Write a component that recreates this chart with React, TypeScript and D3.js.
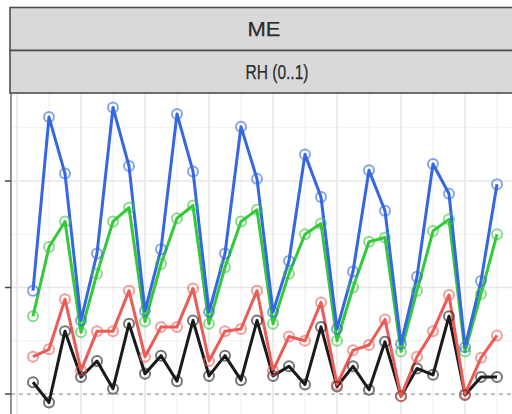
import React, { useEffect, useRef } from "react";
import * as d3 from "d3";

// Facet strip labels
const stripLabels = ["ME", "RH (0..1)"];

// Values, one per time step (30 steps)
const blueSeries = [
  0.97, 2.6, 2.07, 0.69, 1.32, 2.69, 2.14, 0.78, 1.36, 2.63, 2.09, 0.77, 1.32, 2.51, 2.02,
  0.77, 1.25, 2.25, 1.85, 0.61, 1.15, 2.1, 1.72, 0.47, 1.1, 2.16, 1.88, 0.44, 1.06, 1.97,
];
const greenSeries = [
  0.73, 1.38, 1.62, 0.58, 1.13, 1.62, 1.75, 0.68, 1.22, 1.65, 1.77, 0.66, 1.19, 1.62, 1.73,
  0.66, 1.13, 1.5, 1.6, 0.5, 1.0, 1.43, 1.47, 0.4, 0.97, 1.53, 1.64, 0.4, 0.94, 1.5,
];
const redSeries = [
  0.35, 0.42, 0.89, 0.22, 0.59, 0.59, 0.97, 0.35, 0.63, 0.63, 0.99, 0.31, 0.59, 0.61, 0.97,
  0.22, 0.54, 0.5, 0.86, 0.09, 0.41, 0.46, 0.7, -0.02, 0.35, 0.59, 0.93, 0.0, 0.34, 0.55,
];
const blackSeries = [
  0.11, -0.08, 0.59, 0.16, 0.31, 0.05, 0.66, 0.19, 0.36, 0.12, 0.69, 0.17, 0.36, 0.13, 0.69,
  0.17, 0.26, 0.09, 0.63, 0.07, 0.26, 0.04, 0.49, -0.02, 0.24, 0.18, 0.73, -0.01, 0.16, 0.16,
];

// y breaks (labels are cut off in the picture)
const yMajor = [0, 1, 2];
const yMinor = [0.5, 1.5, 2.5];

const series = [
  { name: "black", values: blackSeries, color: "#1a1a1a" },
  { name: "red", values: redSeries, color: "#ec5b55" },
  { name: "green", values: greenSeries, color: "#33c93a" },
  { name: "blue", values: blueSeries, color: "#3567e3" },
];

const W = 512;
const H = 414;

const Chart = () => {
  const ref = useRef(null);

  useEffect(() => {
    const svg = d3.select(ref.current);
    svg.selectAll("*").remove();

    const panel = { left: 11, top: 93, right: 540, bottom: 430 };

    // x: step index, y: value
    const x = d3.scaleLinear().domain([0, 29]).range([33, 497]);
    const y = d3.scaleLinear().domain([0, 2]).range([394, 181]);

    svg.append("rect").attr("width", W).attr("height", H).attr("fill", "#fff");

    const g = svg.append("g");

    // grid
    const xMajor = d3.range(-1, 31, 4);
    const xMinor = d3.range(1, 31, 4);
    g.selectAll(".vminor")
      .data(xMinor)
      .join("line")
      .attr("x1", (d) => x(d))
      .attr("x2", (d) => x(d))
      .attr("y1", panel.top)
      .attr("y2", panel.bottom)
      .attr("stroke", "#f0f0f0")
      .attr("stroke-width", 1.2);
    g.selectAll(".hminor")
      .data(yMinor)
      .join("line")
      .attr("x1", panel.left)
      .attr("x2", panel.right)
      .attr("y1", (d) => y(d))
      .attr("y2", (d) => y(d))
      .attr("stroke", "#f0f0f0")
      .attr("stroke-width", 1.2);
    g.selectAll(".vmajor")
      .data(xMajor)
      .join("line")
      .attr("x1", (d) => x(d))
      .attr("x2", (d) => x(d))
      .attr("y1", panel.top)
      .attr("y2", panel.bottom)
      .attr("stroke", "#e6e6e6")
      .attr("stroke-width", 1.6);
    g.selectAll(".hmajor")
      .data(yMajor.filter((d) => d !== 0))
      .join("line")
      .attr("x1", panel.left)
      .attr("x2", panel.right)
      .attr("y1", (d) => y(d))
      .attr("y2", (d) => y(d))
      .attr("stroke", "#e6e6e6")
      .attr("stroke-width", 1.6);

    // dashed zero line
    g.append("line")
      .attr("x1", panel.left)
      .attr("x2", panel.right)
      .attr("y1", y(0))
      .attr("y2", y(0))
      .attr("stroke", "#aaa")
      .attr("stroke-width", 1.4)
      .attr("stroke-dasharray", "4,4");

    // lines
    const line = d3
      .line()
      .x((d, i) => x(i))
      .y((d) => y(d));

    series.forEach((s) => {
      g.append("path")
        .datum(s.values)
        .attr("fill", "none")
        .attr("stroke", s.color)
        .attr("stroke-width", 3)
        .attr("stroke-linejoin", "round")
        .attr("d", line);
    });

    // points (open circles)
    series.forEach((s) => {
      g.selectAll(".pt-" + s.name)
        .data(s.values)
        .join("circle")
        .attr("cx", (d, i) => x(i))
        .attr("cy", (d) => y(d))
        .attr("r", 5)
        .attr("fill", "none")
        .attr("stroke", s.color)
        .attr("stroke-opacity", 0.6)
        .attr("stroke-width", 2);
    });

    // left axis line + ticks
    svg.append("line")
      .attr("x1", panel.left)
      .attr("x2", panel.left)
      .attr("y1", panel.top)
      .attr("y2", H)
      .attr("stroke", "#777")
      .attr("stroke-width", 1.6);
    svg.selectAll(".ytick")
      .data(yMajor)
      .join("line")
      .attr("x1", panel.left - 6)
      .attr("x2", panel.left)
      .attr("y1", (d) => y(d))
      .attr("y2", (d) => y(d))
      .attr("stroke", "#444")
      .attr("stroke-width", 1.5);

    // facet strips
    const strips = [
      { label: stripLabels[0], y0: 7.5, y1: 50.5, cx: 264, len: 33 },
      { label: stripLabels[1], y0: 50.5, y1: 93, cx: 277, len: 63 },
    ];
    strips.forEach((s) => {
      svg.append("rect")
        .attr("x", 10)
        .attr("y", s.y0)
        .attr("width", 540)
        .attr("height", s.y1 - s.y0)
        .attr("fill", "#d9d9d9")
        .attr("stroke", "#4d4d4d")
        .attr("stroke-width", 1.6);
      svg.append("text")
        .attr("x", s.cx)
        .attr("y", (s.y0 + s.y1) / 2)
        .attr("dy", "0.36em")
        .attr("text-anchor", "middle")
        .attr("font-family", "Liberation Sans, Arial, sans-serif")
        .attr("font-size", 20)
        .attr("fill", "#2b2b2b")
        .attr("stroke", "#2b2b2b")
        .attr("stroke-width", 0.25)
        .attr("textLength", s.len)
        .attr("lengthAdjust", "spacingAndGlyphs")
        .text(s.label);
    });
  }, []);

  return <svg ref={ref} width={W} height={H} style={{ position: "absolute", left: 0, top: 0 }} />;
};

export default function App() {
  return <Chart />;
}
